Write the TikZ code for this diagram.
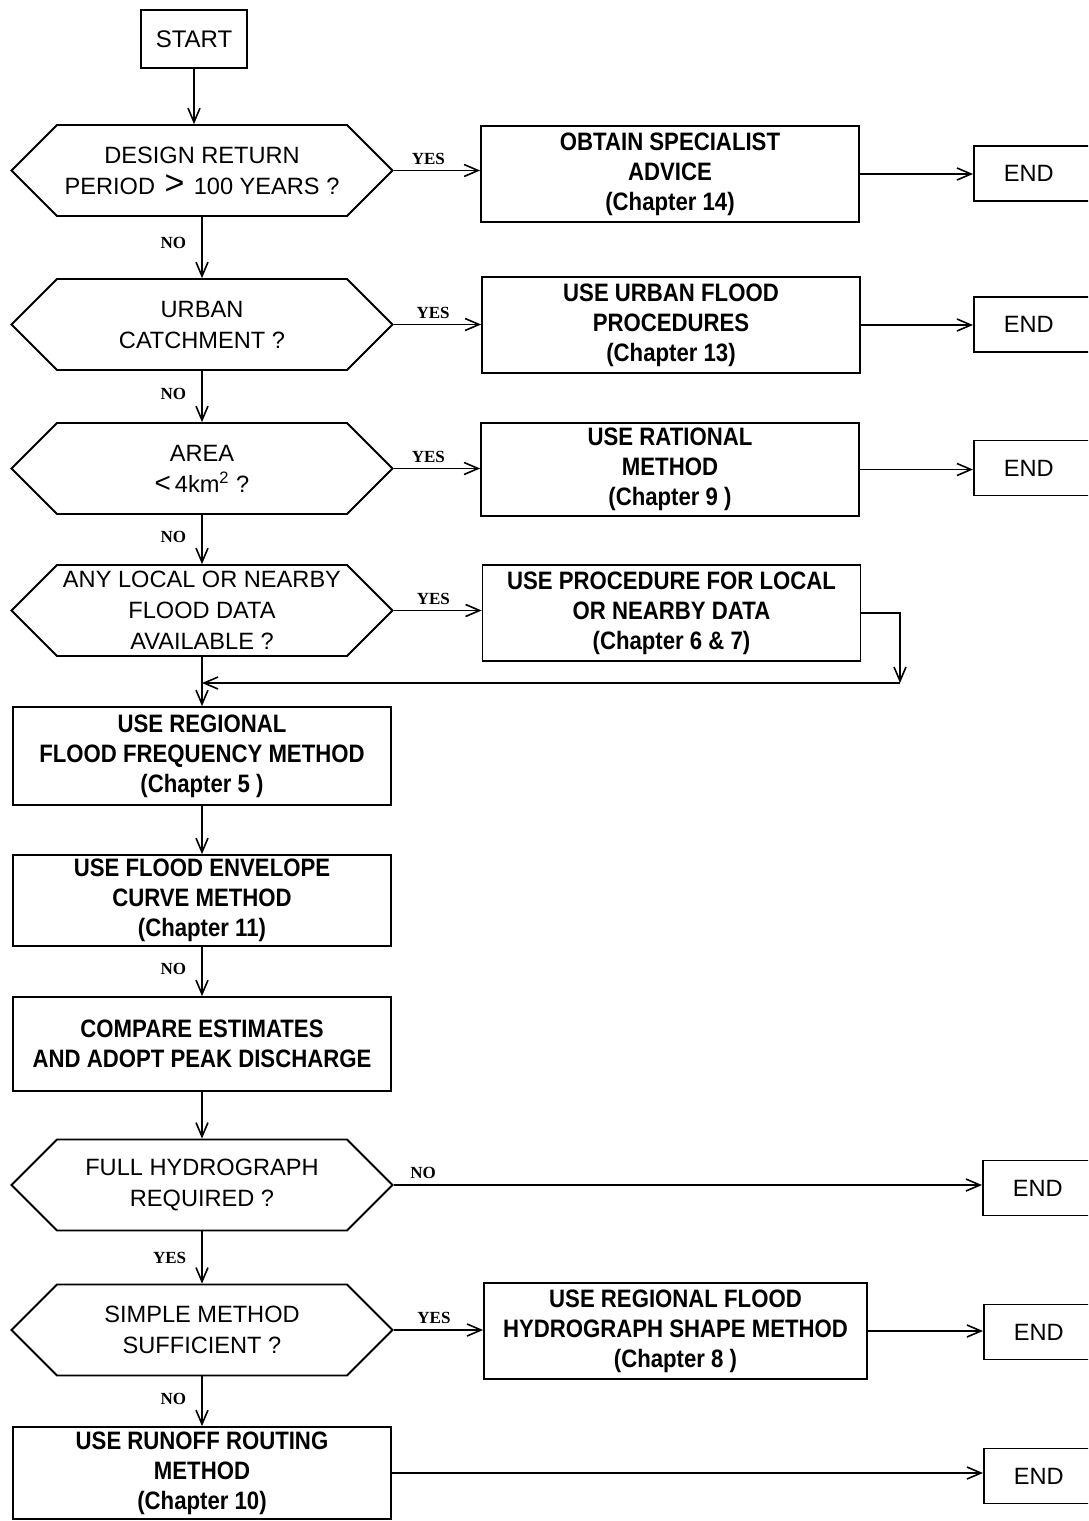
\documentclass[tikz,border=0pt]{standalone}
\usepackage{fontspec}
\setmainfont{Liberation Sans}
\newfontfamily\boxfont[FakeStretch=0.88]{Liberation Sans}
\newfontfamily\labfont{Liberation Serif}
\usetikzlibrary{arrows.meta,shapes.symbols}
\begin{document}
\begin{tikzpicture}[x=0.5pt,y=-0.5pt,
  line width=0.9pt,
  >={Straight Barb[length=7pt,width=6pt,line width=0.8pt]},
  hexa/.style={signal, signal to=west and east, signal pointer angle=90, draw,
    minimum width=190.5pt, minimum height=45.5pt, inner sep=0pt, align=center,
    font=\fontsize{11.8}{15.5}\selectfont},
  procbox/.style={rectangle, draw, minimum width=189pt, minimum height=48pt,
    inner sep=0pt, align=center, font=\boxfont\bfseries\fontsize{12.6}{15}\selectfont},
  termbox/.style={rectangle, draw, minimum width=53pt, minimum height=29pt,
    inner sep=0pt, font=\fontsize{12}{14}\selectfont},
  endbox/.style={rectangle, draw, anchor=west, minimum height=27.5pt, text width=40pt,
    inner xsep=15pt, inner ysep=0pt, align=left, font=\fontsize{11.8}{14}\selectfont},
  lab/.style={font=\labfont\bfseries\fontsize{8.5}{10}\selectfont, inner sep=1.5pt},
  yeslab/.style={lab, above, yshift=1pt},
  nolab/.style={lab, left, xshift=-6pt},
]
\useasboundingbox (0,0) rectangle (1088,1521);
\clip (0,0) rectangle (1088,1521);

% main column
\node[termbox] (start) at (194,39) {START};
\node[hexa] (q1) at (202,170.5) {DESIGN RETURN\\PERIOD\hspace{0.4em}{\fontsize{17}{15.5}\selectfont >}\hspace{0.4em}100 YEARS ?};
\node[hexa] (q2) at (202,324.5) {URBAN\\CATCHMENT ?};
\node[hexa] (q3) at (202,468.5) {AREA\\{\fontsize{14}{15.5}\selectfont <}\,4km\textsuperscript{2} ?};
\node[hexa] (q4) at (202,610.5) {ANY LOCAL OR NEARBY\\FLOOD DATA\\AVAILABLE ?};
\node[procbox, minimum height=49pt] (regional) at (202,756) {USE REGIONAL\\FLOOD FREQUENCY METHOD\\(Chapter 5 )};
\node[procbox, minimum height=45.5pt] (envelope) at (202,900.5) {USE FLOOD ENVELOPE\\CURVE METHOD\\(Chapter 11)};
\node[procbox, minimum height=47pt] (compare) at (202,1044) {COMPARE ESTIMATES\\AND ADOPT PEAK DISCHARGE};
\node[hexa] (q5) at (202,1185) {FULL HYDROGRAPH\\REQUIRED ?};
\node[hexa] (q6) at (202,1330) {SIMPLE METHOD\\SUFFICIENT ?};
\node[procbox, minimum height=46pt] (runoff) at (202,1473) {USE RUNOFF ROUTING\\METHOD\\(Chapter 10)};

% right column
\node[procbox] (obtain) at (670,174) {OBTAIN SPECIALIST\\ADVICE\\(Chapter 14)};
\node[procbox] (urban) at (671,325) {USE URBAN FLOOD\\PROCEDURES\\(Chapter 13)};
\node[procbox, minimum height=46.5pt] (rational) at (670,469.5) {USE RATIONAL\\METHOD\\(Chapter 9 )};
\node[procbox] (local) at (671.5,613) {USE PROCEDURE FOR LOCAL\\OR NEARBY DATA\\(Chapter 6 \& 7)};
\node[procbox, minimum width=191.5pt] (hydro) at (675.5,1331) {USE REGIONAL FLOOD\\HYDROGRAPH SHAPE METHOD\\(Chapter 8 )};

% end boxes
\node[endbox] (end1) at (973,173.5) {END};
\node[endbox] (end2) at (973,324.5) {END};
\node[endbox] (end3) at (973,468) {END};
\node[endbox] (end5) at (982,1188) {END};
\node[endbox] (end6) at (983,1332) {END};
\node[endbox] (end7) at (983,1476) {END};

\coordinate (fb) at (900,683);

% connectors
\draw[->] (start.south) -- (start.south |- q1.north);
\draw[->] (q1.east) -- node[yeslab, pos=0.4] {YES} (q1.east -| obtain.west);
\draw[->] (obtain.east) -- (obtain.east -| end1.west);
\draw[->] (q1.south) -- node[nolab, pos=0.42] {NO} (q2.north);
\draw[->] (q2.east) -- node[yeslab, pos=0.45] {YES} (q2.east -| urban.west);
\draw[->] (urban.east) -- (urban.east -| end2.west);
\draw[->] (q2.south) -- node[nolab, pos=0.45] {NO} (q3.north);
\draw[->] (q3.east) -- node[yeslab, pos=0.4] {YES} (q3.east -| rational.west);
\draw[->] (rational.east) -- (rational.east -| end3.west);
\draw[->] (q3.south) -- node[nolab, pos=0.45] {NO} (q4.north);
\draw[->] (q4.east) -- node[yeslab, pos=0.45] {YES} (q4.east -| local.west);
\draw[->] (local.east) -| (fb);
\draw[->] (fb) -- (fb -| q4.south);
\draw[->] (q4.south) -- (regional.north);
\draw[->] (regional.south) -- (envelope.north);
\draw[->] (envelope.south) -- node[nolab, pos=0.45] {NO} (compare.north);
\draw[->] (compare.south) -- (q5.north);
\draw[->] (q5.east) -- node[yeslab, pos=0.05] {NO} (q5.east -| end5.west);
\draw[->] (q5.south) -- node[nolab, pos=0.5] {YES} (q6.north);
\draw[->] (q6.east) -- node[yeslab, pos=0.45] {YES} (q6.east -| hydro.west);
\draw[->] (hydro.east) -- (hydro.east -| end6.west);
\draw[->] (q6.south) -- node[nolab, pos=0.45] {NO} (runoff.north);
\draw[->] (runoff.east) -- (runoff.east -| end7.west);
\end{tikzpicture}
\end{document}
